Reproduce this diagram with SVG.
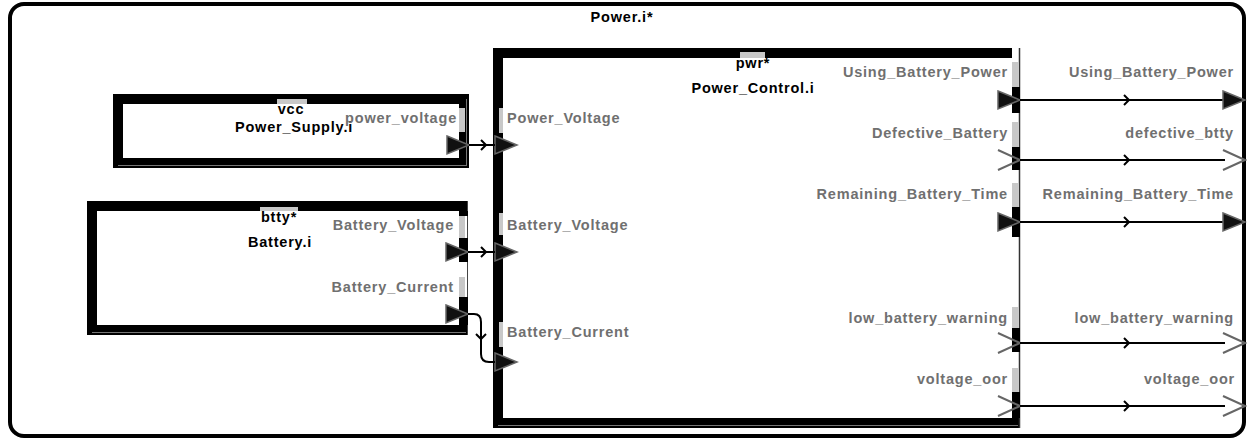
<svg xmlns="http://www.w3.org/2000/svg" xmlns:xlink="http://www.w3.org/1999/xlink" width="1247" height="442" viewBox="0 0 1247 442">
<style>
text{font-family:"Liberation Sans",Arial,sans-serif;font-weight:bold;font-size:14.5px;letter-spacing:0.8px}
.nm{fill:#000;text-anchor:middle}
.pl{fill:#707070}
.end{text-anchor:end}
.strip{fill:#c8c8c8}
.blk{fill:#000}
.tri{fill:#111;stroke:#666;stroke-width:1.5}
.open{fill:none;stroke:#666;stroke-width:2}
.conn{fill:none;stroke:#000;stroke-width:2}
.chev{fill:none;stroke:#000;stroke-width:2}
.shadow{stroke:#777;stroke-width:1}
</style>
<defs>
<path id="chev" d="M-4,-5 L1,0 L-4,5"/>
<path id="ftri" d="M-22,-9 L0,0 L-22,9 Z"/>
<path id="otri" d="M-22,-10 L0,0 L-22,10"/>
</defs>
<g id="frame">
<rect x="10" y="4" width="1234" height="432" rx="14" fill="#fff" stroke="#000" stroke-width="4"/>
<text class="nm" x="622" y="22">Power.i*</text>
</g>
<g id="vcc">
<rect x="113" y="94" width="356" height="74" class="blk"/>
<rect x="123" y="104" width="336" height="54" fill="#fff"/>
<line x1="118" y1="165.5" x2="466" y2="165.5" class="shadow"/>
<line x1="466.5" y1="99" x2="466.5" y2="166" class="shadow"/>
<rect x="277" y="99" width="30" height="5" class="strip"/>
<rect x="459" y="108" width="6" height="24" class="strip"/>
<text class="nm" x="291" y="114">vcc</text>
<text class="nm" x="294" y="132">Power_Supply.i</text>
<text class="pl end" x="457" y="123">power_voltage</text>
<use href="#ftri" x="469" y="145" class="tri"/>
</g>
<g id="btty">
<rect x="87" y="201" width="372" height="134" class="blk"/>
<rect x="87" y="201" width="381" height="10" class="blk"/>
<rect x="87" y="325" width="381" height="10" class="blk"/>
<rect x="97" y="211" width="362" height="114" fill="#fff"/>
<line x1="467.5" y1="201" x2="467.5" y2="335" stroke="#444" stroke-width="1"/>
<line x1="92" y1="332.5" x2="466" y2="332.5" class="shadow"/>
<rect x="459" y="211" width="9" height="5" class="blk"/>
<rect x="459" y="216" width="6" height="22" class="strip"/>
<rect x="459" y="238" width="9" height="24" class="blk"/>
<rect x="459" y="277" width="6" height="20" class="strip"/>
<rect x="459" y="297" width="9" height="28" class="blk"/>
<rect x="260" y="207" width="38" height="4" class="strip"/>
<text class="nm" x="279" y="222">btty*</text>
<text class="nm" x="280" y="247">Battery.i</text>
<text class="pl end" x="454" y="230">Battery_Voltage</text>
<text class="pl end" x="454" y="292">Battery_Current</text>
<use href="#ftri" x="468" y="252" class="tri"/>
<use href="#ftri" x="468" y="314" class="tri"/>
</g>
<g id="pwr">
<rect x="493" y="48" width="519" height="380" class="blk"/>
<rect x="493" y="418" width="527" height="10" class="blk"/>
<rect x="503" y="58" width="509" height="360" fill="#fff"/>
<line x1="498" y1="425.5" x2="1018" y2="425.5" class="shadow"/>
<line x1="1019.5" y1="48" x2="1019.5" y2="428" stroke="#333" stroke-width="1.5"/>
<rect x="740" y="52" width="25" height="6" class="strip"/>
<rect x="499" y="108" width="4" height="25" class="strip"/>
<rect x="499" y="213" width="4" height="22" class="strip"/>
<rect x="499" y="322" width="4" height="25" class="strip"/>
<rect x="1012" y="62" width="6" height="25" class="strip"/>
<rect x="1012" y="87" width="8" height="26" class="blk"/>
<rect x="1012" y="122" width="6" height="25" class="strip"/>
<rect x="1012" y="147" width="8" height="23" class="blk"/>
<rect x="1012" y="183" width="6" height="24" class="strip"/>
<rect x="1012" y="207" width="8" height="30" class="blk"/>
<rect x="1012" y="307" width="6" height="21" class="strip"/>
<rect x="1012" y="328" width="8" height="24" class="blk"/>
<rect x="1012" y="368" width="6" height="24" class="strip"/>
<rect x="1012" y="392" width="8" height="26" class="blk"/>
<text class="nm" x="753" y="68">pwr*</text>
<text class="nm" x="753" y="93">Power_Control.i</text>
<text class="pl" x="507" y="123">Power_Voltage</text>
<text class="pl" x="507" y="230">Battery_Voltage</text>
<text class="pl" x="507" y="337">Battery_Current</text>
<text class="pl end" x="1008" y="77">Using_Battery_Power</text>
<text class="pl end" x="1008" y="138">Defective_Battery</text>
<text class="pl end" x="1008" y="199">Remaining_Battery_Time</text>
<text class="pl end" x="1008" y="323">low_battery_warning</text>
<text class="pl end" x="1008" y="384">voltage_oor</text>
<use href="#ftri" x="517" y="145" class="tri"/>
<use href="#ftri" x="517" y="252" class="tri"/>
<use href="#ftri" x="517" y="362" class="tri"/>
<use href="#ftri" x="1020" y="100" class="tri"/>
<use href="#otri" x="1020" y="160" class="open"/>
<use href="#ftri" x="1020" y="222" class="tri"/>
<use href="#otri" x="1020" y="343" class="open"/>
<use href="#otri" x="1020" y="406" class="open"/>
</g>
<g id="outports">
<text class="pl end" x="1234" y="77">Using_Battery_Power</text>
<text class="pl end" x="1234" y="138">defective_btty</text>
<text class="pl end" x="1234" y="199">Remaining_Battery_Time</text>
<text class="pl end" x="1234" y="323">low_battery_warning</text>
<text class="pl end" x="1235" y="384">voltage_oor</text>
</g>
<g id="connectors">
<path class="conn" d="M469,145 H495"/>
<path class="conn" d="M468,252 H495"/>
<path class="conn" d="M468,314 H474 Q481,314 481,322 V354 Q481,362 489,362 H495"/>
<path class="conn" d="M1020,100 H1226"/>
<path class="conn" d="M1020,160 H1225"/>
<path class="conn" d="M1020,222 H1226"/>
<path class="conn" d="M1020,343 H1225"/>
<path class="conn" d="M1020,406 H1225"/>
<use href="#chev" class="chev" transform="translate(485,145)"/>
<use href="#chev" class="chev" transform="translate(485,252)"/>
<use href="#chev" class="chev" transform="translate(481,338) rotate(90)"/>
<use href="#chev" class="chev" transform="translate(1128,100)"/>
<use href="#chev" class="chev" transform="translate(1128,160)"/>
<use href="#chev" class="chev" transform="translate(1128,222)"/>
<use href="#chev" class="chev" transform="translate(1128,343)"/>
<use href="#chev" class="chev" transform="translate(1128,406)"/>
<use href="#ftri" x="1245" y="100" class="tri"/>
<use href="#otri" x="1245" y="160" class="open"/>
<use href="#ftri" x="1245" y="222" class="tri"/>
<use href="#otri" x="1245" y="343" class="open"/>
<use href="#otri" x="1245" y="406" class="open"/>
</g>
</svg>
